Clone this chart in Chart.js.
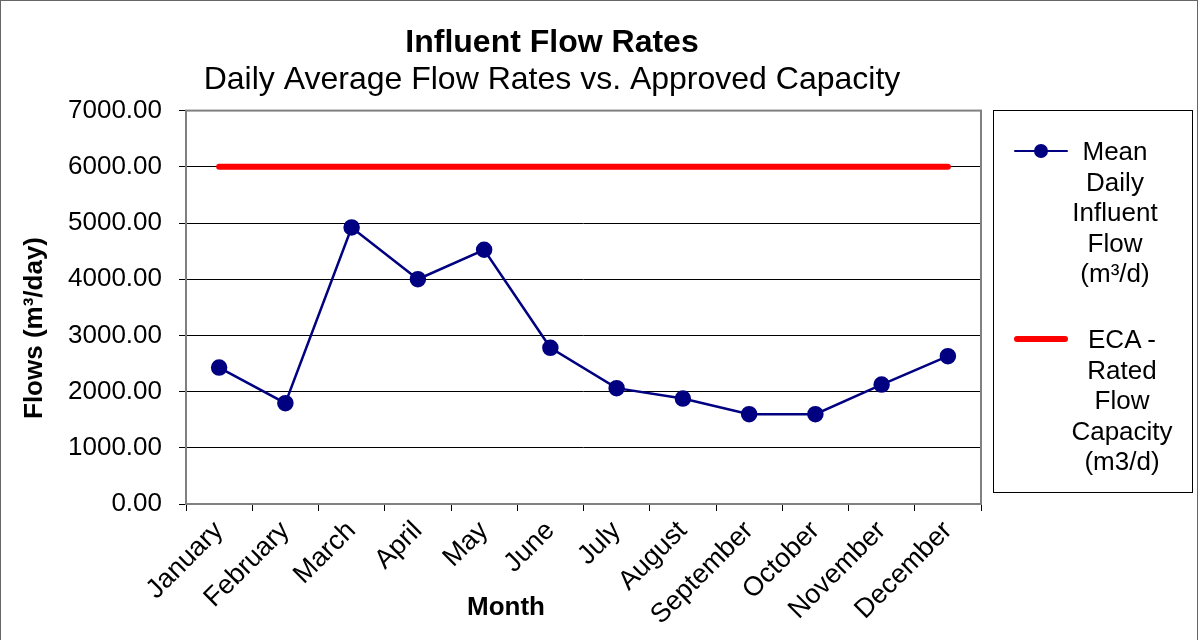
<!DOCTYPE html>
<html>
<head>
<meta charset="utf-8">
<script src="https://cdn.jsdelivr.net/npm/chart.js@4.4.1/dist/chart.umd.min.js"></script>
<style>
  body { margin: 0; background: #fff; font-family: "Liberation Sans", Arial, sans-serif; }
  #wrap { position: relative; width: 1196px; height: 640px; border: 1px solid #666; border-bottom: none; overflow: hidden; }
  #chart { position: absolute; left: 0; top: 0; }
  #legend { position: absolute; left: 992px; top: 109px; width: 198px; height: 381px; border: 1px solid #000; }
  .item { position: absolute; left: 0; width: 198px; }
  .sample { position: absolute; left: 20px; width: 54px; }
  .sample .ln { position: absolute; left: 0; right: 0; border-radius: 3px; }
  .sample .dot { position: absolute; left: 20px; width: 14px; height: 14px; border-radius: 50%; top: -7px; }
  .text { position: absolute; width: 104px; text-align: center; font-size: 26px; line-height: 30.5px; color: #000; }
</style>
</head>
<body>
<div id="wrap">
  <canvas id="chart" width="1102" height="640"></canvas>
  <div id="legend"></div>
</div>
<script>
const months = ["January", "February", "March", "April", "May", "June",
                "July", "August", "September", "October", "November", "December"];
const meanFlow = [2428, 1794, 4921, 4000, 4524, 2779, 2061, 1876, 1598, 1598, 2125, 2630];
const ratedCapacity = [6000, 6000, 6000, 6000, 6000, 6000, 6000, 6000, 6000, 6000, 6000, 6000];
const yTicks = [0, 1000, 2000, 3000, 4000, 5000, 6000, 7000];

const FONT = '"Liberation Sans", Arial, sans-serif';

// plot frame + axis titles that Excel places off-centre
const frame = {
  id: 'frame',
  afterDatasetsDraw(chart) {
    const {ctx, chartArea: a} = chart;
    ctx.save();
    ctx.strokeStyle = '#808080';
    ctx.lineWidth = 2;
    ctx.strokeRect(a.left, a.top, a.right - a.left, a.bottom - a.top);
    ctx.restore();
  },
  afterDraw(chart) {
    const ctx = chart.ctx;
    ctx.save();
    ctx.fillStyle = '#000';
    ctx.font = 'bold 26px ' + FONT;
    ctx.textAlign = 'center';
    ctx.textBaseline = 'middle';
    ctx.fillText('Month', 505, 607);
    ctx.translate(34, 327);
    ctx.rotate(-Math.PI / 2);
    ctx.fillText('Flows (m³/day)', 0, 0);
    ctx.restore();
  }
};

// html legend built from the datasets
const htmlLegend = {
  id: 'htmlLegend',
  afterUpdate(chart) {
    const box = document.getElementById('legend');
    box.innerHTML = '';
    const spots = [{y: 40, tx: 69}, {y: 228, tx: 76}];
    chart.data.datasets.forEach((ds, i) => {
      const item = document.createElement('div');
      item.className = 'item';
      item.style.top = spots[i].y + 'px';
      const s = document.createElement('div');
      s.className = 'sample';
      const ln = document.createElement('div');
      ln.className = 'ln';
      ln.style.borderTop = ds.borderWidth + 'px solid ' + ds.borderColor;
      ln.style.top = (-ds.borderWidth / 2) + 'px';
      s.appendChild(ln);
      if (ds.pointRadius > 0) {
        const dot = document.createElement('div');
        dot.className = 'dot';
        dot.style.background = ds.pointBackgroundColor;
        s.appendChild(dot);
      }
      item.appendChild(s);
      const t = document.createElement('div');
      t.className = 'text';
      t.style.left = spots[i].tx + 'px';
      t.style.top = '-15px';
      t.textContent = ds.label;
      item.appendChild(t);
      box.appendChild(item);
    });
  }
};

new Chart(document.getElementById('chart'), {
  type: 'line',
  data: {
    labels: months,
    datasets: [
      {
        label: 'Mean Daily Influent Flow (m³/d)',
        data: meanFlow,
        borderColor: '#000080',
        backgroundColor: '#000080',
        pointBackgroundColor: '#000080',
        pointBorderColor: '#000080',
        borderWidth: 2.5,
        pointRadius: 7,
        tension: 0
      },
      {
        label: 'ECA - Rated Flow Capacity (m3/d)',
        data: ratedCapacity,
        borderColor: '#ff0000',
        backgroundColor: '#ff0000',
        borderWidth: 6,
        borderCapStyle: 'round',
        pointRadius: 0,
        tension: 0
      }
    ]
  },
  options: {
    responsive: false,
    animation: false,
    layout: { padding: 0 },
    plugins: {
      legend: { display: false },
      tooltip: { enabled: false },
      title: {
        display: true,
        text: 'Influent Flow Rates',
        color: '#000',
        font: { family: FONT, size: 32, weight: 'bold', lineHeight: 1.15 },
        padding: { top: 24, bottom: 0 }
      },
      subtitle: {
        display: true,
        text: 'Daily Average Flow Rates vs. Approved Capacity',
        color: '#000',
        font: { family: FONT, size: 32, lineHeight: 1.15 },
        padding: { top: 0, bottom: 12 }
      }
    },
    scales: {
      x: {
        offset: true,
        afterFit(scale) { scale.height = 137; },
        grid: {
          offset: true,
          drawOnChartArea: false,
          drawTicks: true,
          tickLength: 7,
          tickColor: '#000',
          tickWidth: 1
        },
        border: { display: false },
        ticks: {
          color: '#000',
          font: { family: FONT, size: 27 },
          minRotation: 45,
          maxRotation: 45,
          autoSkip: false,
          padding: 4
        }
      },
      y: {
        min: 0,
        max: 7000,
        afterFit(scale) { scale.width = 185; },
        afterBuildTicks(scale) { scale.ticks = yTicks.map(v => ({ value: v })); },
        grid: {
          color: '#000',
          lineWidth: 1,
          borderDash: [2, 2],
          tickLength: 7,
          tickColor: '#000',
          tickBorderDash: []
        },
        border: { display: false },
        ticks: {
          color: '#000',
          font: { family: FONT, size: 26 },
          padding: 17,
          callback: v => Number(v).toFixed(2)
        }
      },
      // empty right-hand axis: reserves the strip left of the legend
      // without shifting the title's centre
      yGap: {
        type: 'linear',
        position: 'right',
        min: 0,
        max: 7000,
        afterFit(scale) { scale.width = 122; },
        grid: { display: false },
        border: { display: false },
        ticks: { display: false }
      }
    }
  },
  plugins: [frame, htmlLegend]
});
</script>
</body>
</html>
